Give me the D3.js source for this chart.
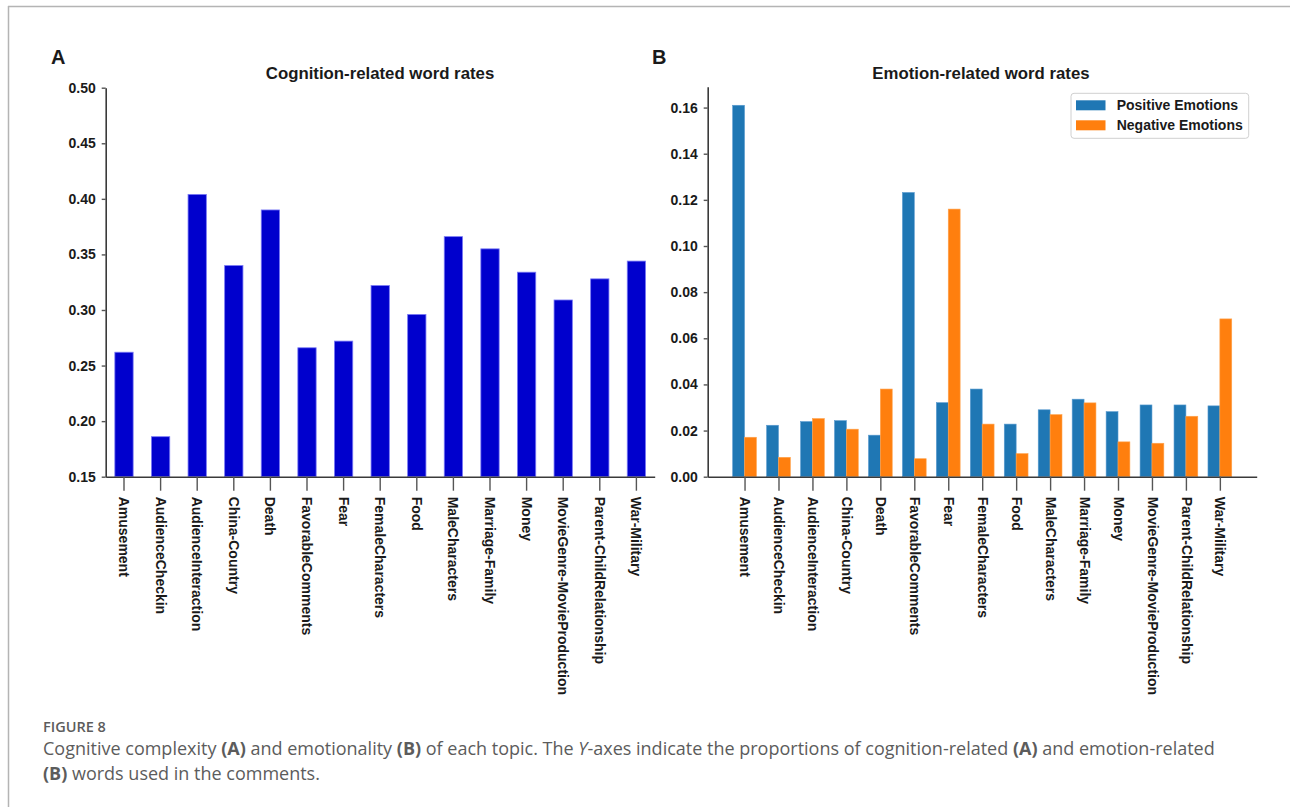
<!DOCTYPE html>
<html>
<head>
<meta charset="utf-8">
<script src="https://cdn.jsdelivr.net/npm/d3@7"></script>
<style>
  html, body { margin: 0; padding: 0; background: #fff; }
  svg { display: block; }
  .chart text { font-family: "Liberation Sans", Arial, sans-serif; font-weight: bold; fill: #1a1a1a; }
  .caption text { font-family: "Open Sans", "Noto Sans", sans-serif; fill: #5c5c5c; }
</style>
</head>
<body>
<svg id="fig" width="1290" height="807"></svg>
<script>
// Topics shared by both panels
const topics = [
  "Amusement", "AudienceCheckin", "AudienceInteraction", "China-Country", "Death",
  "FavorableComments", "Fear", "FemaleCharacters", "Food", "MaleCharacters",
  "Marriage-Family", "Money", "MovieGenre-MovieProduction", "Parent-ChildRelationship", "War-Military"
];

// Panel A: share of cognition-related words per topic
const cognitionRates = [
  0.262, 0.186, 0.404, 0.340, 0.390,
  0.266, 0.272, 0.322, 0.296, 0.366,
  0.355, 0.334, 0.309, 0.328, 0.344
];

// Panel B: share of positive / negative emotion words per topic
const positiveRates = [
  0.161, 0.0223, 0.0239, 0.0243, 0.0180,
  0.1232, 0.0321, 0.0380, 0.0228, 0.0290,
  0.0336, 0.0282, 0.0311, 0.0311, 0.0307
];
const negativeRates = [
  0.0171, 0.0084, 0.0252, 0.0206, 0.0380,
  0.0078, 0.1160, 0.0228, 0.0100, 0.0269,
  0.0320, 0.0151, 0.0145, 0.0262, 0.0684
];

const cognitionTicks = [0.15, 0.20, 0.25, 0.30, 0.35, 0.40, 0.45, 0.50];
const emotionTicks = [0.00, 0.02, 0.04, 0.06, 0.08, 0.10, 0.12, 0.14, 0.16];
const seriesNames = ["Positive Emotions", "Negative Emotions"];
const seriesColors = ["#1f77b4", "#ff7f0e"];

const svg = d3.select("#fig");
svg.append("rect").attr("width", 1290).attr("height", 807).attr("fill", "#fff");

// Figure frame (top and left rules)
svg.append("line").attr("x1", 8).attr("x2", 1290).attr("y1", 6.5).attr("y2", 6.5)
  .attr("stroke", "#b4b4b4").attr("stroke-width", 1.5);
svg.append("line").attr("x1", 8.5).attr("x2", 8.5).attr("y1", 6).attr("y2", 807)
  .attr("stroke", "#b4b4b4").attr("stroke-width", 1.5);

const chart = svg.append("g").attr("class", "chart");

const axisColor = "#3a3a3a";
const tickColor = "#555";

function styleAxis(g) {
  g.select(".domain").attr("stroke", axisColor).attr("stroke-width", 1.6);
  g.selectAll(".tick line").attr("stroke", tickColor).attr("stroke-width", 1.4);
  g.selectAll(".tick text").attr("font-size", 14).attr("fill", "#1a1a1a")
    .attr("font-family", "Liberation Sans, Arial, sans-serif").attr("font-weight", "bold");
}

function rotateLabels(g) {
  g.selectAll(".tick text")
    .attr("transform", "rotate(90)")
    .attr("x", 20).attr("y", 0).attr("dy", "0.35em")
    .attr("text-anchor", "start");
}

// ---------- Panel A ----------
const plotTop = 87.7, plotBottom = 476.7;
const xA = d3.scaleBand().domain(topics).range([105.7, 654.7]).paddingInner(0.5).paddingOuter(0.25);
const yA = d3.scaleLinear().domain([0.15, 0.50]).range([plotBottom, plotTop]);

chart.append("g").selectAll("rect").data(cognitionRates).join("rect")
  .attr("x", (d, i) => xA(topics[i]))
  .attr("width", xA.bandwidth())
  .attr("y", d => yA(d))
  .attr("height", d => yA(0.15) - yA(d))
  .attr("fill", "#0000cd")
  .attr("stroke", "#7a7af5").attr("stroke-width", 0.8);

const axAy = chart.append("g").attr("transform", `translate(${105.7},0)`)
  .call(d3.axisLeft(yA).tickValues(cognitionTicks).tickFormat(d3.format(".2f")).tickSize(4).tickPadding(6).tickSizeOuter(0));
styleAxis(axAy);

const axAx = chart.append("g").attr("transform", `translate(0,${plotBottom})`)
  .call(d3.axisBottom(xA).tickSize(14).tickSizeOuter(0));
styleAxis(axAx);
rotateLabels(axAx);

chart.append("text").attr("x", 380).attr("y", 79).attr("text-anchor", "middle")
  .attr("font-size", 16.8).text("Cognition-related word rates");
chart.append("text").attr("x", 51).attr("y", 64).attr("font-size", 20).text("A");

// ---------- Panel B ----------
const barW = 0.35;
const maxEmotion = d3.max(positiveRates.concat(negativeRates));
const xB = d3.scaleLinear().domain([-barW - 0.05 * (topics.length - 1 + 2 * barW), topics.length - 1 + barW + 0.05 * (topics.length - 1 + 2 * barW)])
  .range([707.7, 1256.7]);
const yB = d3.scaleLinear().domain([0, maxEmotion * 1.05]).range([plotBottom, 86.7]);

const series = [positiveRates, negativeRates];
series.forEach((vals, s) => {
  chart.append("g").selectAll("rect").data(vals).join("rect")
    .attr("x", (d, i) => xB(i - barW + s * barW))
    .attr("width", xB(barW) - xB(0))
    .attr("y", d => yB(d))
    .attr("height", d => yB(0) - yB(d))
    .attr("fill", seriesColors[s])
    .attr("stroke", s === 0 ? "#5a9bd0" : "#ffa34d").attr("stroke-width", 0.6);
});

const axBy = chart.append("g").attr("transform", `translate(${707.7},0)`)
  .call(d3.axisLeft(yB).tickValues(emotionTicks).tickFormat(d3.format(".2f")).tickSize(4).tickPadding(6).tickSizeOuter(0));
styleAxis(axBy);

const axBx = chart.append("g").attr("transform", `translate(0,${plotBottom})`)
  .call(d3.axisBottom(xB).tickValues(d3.range(topics.length)).tickFormat(i => topics[i]).tickSize(14).tickSizeOuter(0));
styleAxis(axBx);
rotateLabels(axBx);

chart.append("text").attr("x", 981).attr("y", 79).attr("text-anchor", "middle")
  .attr("font-size", 16.8).text("Emotion-related word rates");
chart.append("text").attr("x", 652).attr("y", 64).attr("font-size", 20).text("B");

// Legend
const legend = chart.append("g").attr("transform", "translate(1071,93.3)");
legend.append("rect").attr("width", 177.7).attr("height", 45).attr("rx", 3)
  .attr("fill", "#fff").attr("stroke", "#d0d0d0").attr("stroke-width", 1);
seriesNames.forEach((name, s) => {
  legend.append("rect").attr("x", 5).attr("y", 7 + s * 20).attr("width", 29.5).attr("height", 10)
    .attr("fill", seriesColors[s]);
  legend.append("text").attr("x", 45.7).attr("y", 12 + s * 20).attr("dy", "0.35em")
    .attr("font-size", 14).text(name);
});

// ---------- Caption ----------
const cap = svg.append("g").attr("class", "caption");
cap.append("text").attr("x", 43).attr("y", 732).attr("font-size", 14.5).attr("font-weight", 600)
  .attr("fill", "#6a6a6a").text("FIGURE 8");

const line1 = cap.append("text").attr("x", 43).attr("y", 755).attr("font-size", 18);
[["Cognitive complexity ", 400], ["(A)", 700], [" and emotionality ", 400], ["(B)", 700],
 [" of each topic. The ", 400], ["Y", 400, "italic"], ["-axes indicate the proportions of cognition-related ", 400],
 ["(A)", 700], [" and emotion-related", 400]].forEach(([t, w, st]) => {
  line1.append("tspan").attr("font-weight", w).attr("font-style", st || "normal").text(t);
});
const line2 = cap.append("text").attr("x", 43).attr("y", 780).attr("font-size", 18);
[["(B)", 700], [" words used in the comments.", 400]].forEach(([t, w]) => {
  line2.append("tspan").attr("font-weight", w).text(t);
});
</script>
</body>
</html>
